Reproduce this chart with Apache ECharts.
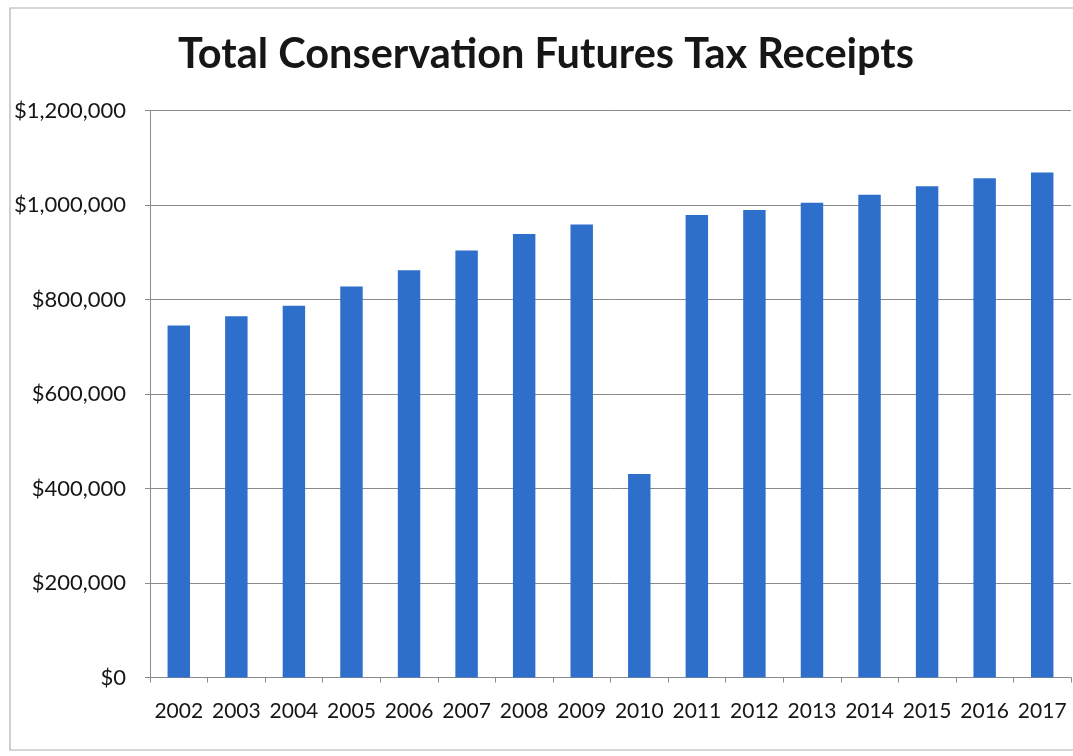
<!DOCTYPE html>
<html>
<head>
<meta charset="utf-8">
<title>Total Conservation Futures Tax Receipts</title>
<script src="https://cdn.jsdelivr.net/npm/echarts@6/dist/echarts.min.js"></script>
<style>
  html, body { margin: 0; padding: 0; background: #ffffff; }
  #chart { width: 1073px; height: 756px; }
</style>
</head>
<body>
<div id="chart"></div>
<script>
// Fiscal years shown along the bottom axis
const years = ['2002', '2003', '2004', '2005', '2006', '2007', '2008', '2009',
               '2010', '2011', '2012', '2013', '2014', '2015', '2016', '2017'];

// Total receipts per year, in dollars
const receipts = [745000, 765000, 787000, 828000, 862000, 904000, 939000, 959000,
                  431000, 979000, 990000, 1005000, 1022000, 1040000, 1057000, 1069000];

// Value axis range and step
const yMin = 0;
const yMax = 1200000;
const yStep = 200000;

const chartTitle = 'Total Conservation Futures Tax Receipts';

const FONT = 'Lato, "Noto Sans", sans-serif';
const TEXT = '#161616';
const GRID_GRAY = '#8a8a8a';

const chart = echarts.init(document.getElementById('chart'), null, { renderer: 'canvas' });

const dollars = v => '$' + Number(v).toLocaleString('en-US');

chart.setOption({
  backgroundColor: '#ffffff',
  animation: false,
  title: {
    text: chartTitle,
    left: 541,
    textAlign: 'center',
    top: 29,
    textStyle: { fontFamily: FONT, fontWeight: 'bold', fontSize: 41.5, color: TEXT }
  },
  graphic: [{
    type: 'rect',
    shape: { x: 10, y: 8, width: 1080, height: 742 },
    style: { fill: 'none', stroke: '#b0b0b0', lineWidth: 1.2 },
    silent: true,
    z: -1
  }],
  grid: { left: 150, right: 2, top: 110.7, bottom: 78.5, containLabel: false },
  xAxis: {
    type: 'category',
    data: years,
    boundaryGap: true,
    axisLine: { show: true, lineStyle: { color: GRID_GRAY, width: 1 } },
    axisTick: { show: true, alignWithLabel: false, length: 5, lineStyle: { color: GRID_GRAY } },
    axisLabel: { fontFamily: FONT, fontSize: 21, color: TEXT, margin: 23, interval: 0 },
    splitLine: { show: false }
  },
  yAxis: {
    type: 'value',
    min: yMin,
    max: yMax,
    interval: yStep,
    axisLine: { show: true, lineStyle: { color: GRID_GRAY, width: 1 } },
    axisTick: { show: true, length: 5, lineStyle: { color: GRID_GRAY } },
    axisLabel: { fontFamily: FONT, fontSize: 22, color: TEXT, margin: 24, formatter: dollars },
    splitLine: { show: true, lineStyle: { color: GRID_GRAY, width: 1 } }
  },
  series: [{
    type: 'bar',
    data: receipts,
    barWidth: '39%',
    itemStyle: { color: '#2f6fcc' }
  }]
});
</script>
</body>
</html>
